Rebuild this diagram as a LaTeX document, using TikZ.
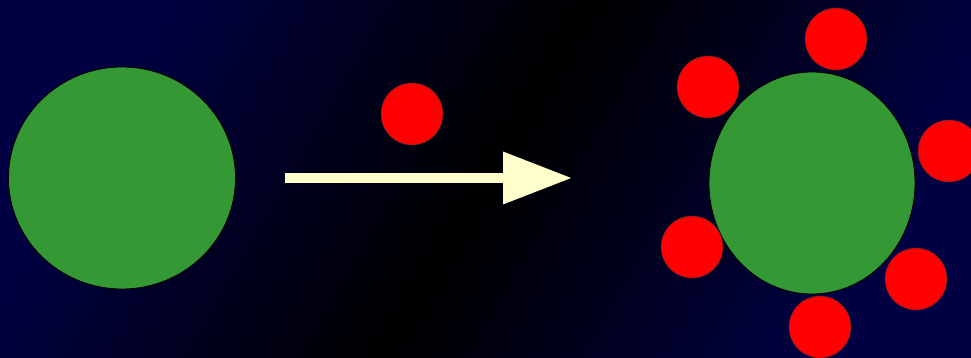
\documentclass[tikz,border=0pt]{standalone}
\usepackage{tikz}
\usetikzlibrary{shapes.geometric,arrows.meta}

\definecolor{bgblue}{RGB}{0,0,66}
\definecolor{cellgreen}{RGB}{52,153,52}
\definecolor{arrowcream}{RGB}{255,255,204}

\tikzset{
  cell/.style={ellipse, draw=black, thick, fill=cellgreen, inner sep=0pt},
  ligand/.style={circle, draw=black!80, thin, fill=red, minimum size=62pt, inner sep=0pt}
}

\begin{document}
\begin{tikzpicture}[x=1pt,y=-1pt]
  % background
  \shade[top color=bgblue, bottom color=bgblue, middle color=black, shading angle=60]
    (0pt,0pt) rectangle (971pt,-358pt);
  \useasboundingbox (0,0) rectangle (971,358);
  % bare cell and free ligand
  \node[cell, minimum width=227pt, minimum height=222pt] (cellA) at (122,178) {};
  \node[ligand] (free) at (412,114) {};
  % reaction arrow
  \coordinate (arrowStart) at (285,178);
  \coordinate (arrowEnd) at (572,178);
  \draw[arrowcream, line width=10pt, -{Triangle[length=69pt,width=50pt]}] (arrowStart) -- (arrowEnd);
  % cell with bound ligands
  \node[cell, minimum width=206pt, minimum height=222pt] (cellB) at (812,183) {};
  \foreach \x/\y/\n in {836/39/top, 708/87/ul, 949/151/r, 692/247/ll, 916/279/lr, 820/327/bot}{
     \node[ligand] (lig-\n) at (\x,\y) {};
  }
\end{tikzpicture}
\end{document}
